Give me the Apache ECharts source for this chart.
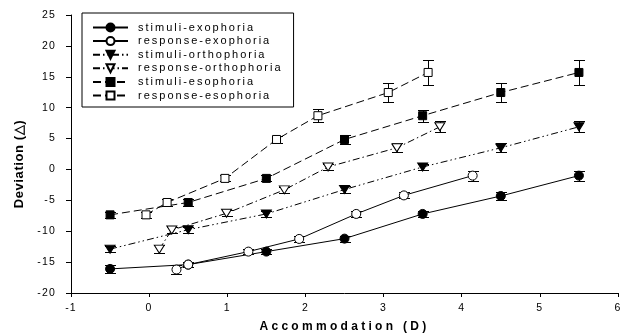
<!DOCTYPE html>
<html><head><meta charset="utf-8">
<script src="https://cdn.jsdelivr.net/npm/echarts@6/dist/echarts.min.js"></script>
<style>html,body{margin:0;padding:0;background:#fff}#c{width:631px;height:334px}</style>
</head><body><div id="c"></div>
<script>
// ---- data ----
const seriesNames = ['stimuli-exophoria','response-exophoria','stimuli-orthophoria','response-orthophoria','stimuli-esophoria','response-esophoria'];

const stimExoX = [-0.5, 0.5, 1.5, 2.5, 3.5, 4.5, 5.5];
const stimExoY = [-16.1, -15.4, -13.3, -11.2, -7.2, -4.3, -1.0];
const stimExoE = [0.7, 0.4, 0.4, 0.5, 0.5, 0.6, 0.8];

const respExoX = [0.35, 0.5, 1.27, 1.92, 2.65, 3.26, 4.14];
const respExoY = [-16.2, -15.4, -13.3, -11.25, -7.2, -4.2, -1.0];
const respExoE = [0.7, 0.4, 0.4, 0.5, 0.5, 0.5, 0.8];

const stimOrthoX = [-0.5, 0.5, 1.5, 2.5, 3.5, 4.5, 5.5];
const stimOrthoY = [-12.9, -9.75, -7.2, -3.25, 0.4, 3.5, 6.9];
const stimOrthoE = [0.5, 0.5, 0.5, 0.5, 0.5, 0.7, 0.9];

const respOrthoX = [0.13, 0.29, 0.99, 1.73, 2.29, 3.17, 3.72];
const respOrthoY = [-12.9, -9.8, -7.1, -3.3, 0.4, 3.5, 6.9];
const respOrthoE = [0.7, 0.5, 0.5, 0.5, 0.5, 0.7, 0.9];

const stimEsoX = [-0.5, 0.5, 1.5, 2.5, 3.5, 4.5, 5.5];
const stimEsoY = [-7.35, -5.35, -1.45, 4.85, 8.7, 12.45, 15.7];
const stimEsoE = [0.5, 0.6, 0.5, 0.7, 1.0, 1.5, 2.0];

const respEsoX = [-0.04, 0.23, 0.97, 1.63, 2.16, 3.06, 3.57];
const respEsoY = [-7.35, -5.35, -1.45, 4.85, 8.7, 12.45, 15.7];
const respEsoE = [0.5, 0.6, 0.5, 0.6, 1.1, 1.5, 2.0];

const xMin = -1, xMax = 6, xStep = 1;
const yMin = -20, yMax = 25, yStep = 5;
const xTitle = 'Accommodation (D)';
const yTitle = 'Deviation (\u25B3)';

// ---- letter spacing for canvas text (keyed by font) ----
(function(){
  const P = CanvasRenderingContext2D.prototype;
  if (!('letterSpacing' in P)) return;
  function sp(font){
    const m = /([\d.]+)px/.exec(font); const s = m ? parseFloat(m[1]) : 0;
    const b = /bold|\b[6-9]00\b/.test(font);
    if (b && Math.abs(s-12) < 0.01) return 3.3;
    if (b && Math.abs(s-13) < 0.01) return 0.6;
    if (!b && Math.abs(s-11) < 0.01) return 2;
    if (!b && Math.abs(s-10.5) < 0.01) return 1.2;
    return 0;
  }
  const ft = P.fillText, mt = P.measureText;
  P.fillText = function(){ this.letterSpacing = sp(this.font) + 'px'; return ft.apply(this, arguments); };
  P.measureText = function(){ this.letterSpacing = sp(this.font) + 'px'; return mt.apply(this, arguments); };
})();

const FONT = 'Liberation Sans';
const downTri = 'path://M0,0L10,0L5,8.66Z';

function pairs(xs, ys){ return xs.map((x,i)=>[x, ys[i]]); }

function lineSeries(name, xs, ys, symbol, size, filled, dash){
  return {
    name, type:'line', data: pairs(xs, ys), symbol, symbolSize: size, showSymbol: true,
    animation:false, z:3, emphasis:{disabled:true}, silent:true,
    lineStyle:{color:'#000', width:1, type: dash},
    itemStyle:{color: filled ? '#000' : '#fff', borderColor:'#000', borderWidth:1}
  };
}

function errSeries(xs, ys, es){
  return {
    type:'custom', silent:true, z:1, animation:false,
    data: xs.map((x,i)=>[x, ys[i], es[i]]),
    encode:{x:0, y:1},
    renderItem(params, api){
      const x = api.value(0), y = api.value(1), e = api.value(2);
      const t = api.coord([x, y + e]), b = api.coord([x, y - e]);
      const cx = Math.round(t[0]) + 0.5, ty = Math.round(t[1]) + 0.5, by = Math.round(b[1]) + 0.5;
      const hw = 5.5;
      const st = {stroke:'#000', lineWidth:1};
      return {type:'group', children:[
        {type:'line', shape:{x1:cx, y1:ty, x2:cx, y2:by}, style:st},
        {type:'line', shape:{x1:cx-hw, y1:ty, x2:cx+hw, y2:ty}, style:st},
        {type:'line', shape:{x1:cx-hw, y1:by, x2:cx+hw, y2:by}, style:st}
      ]};
    }
  };
}

const solid = 'solid';
const dashDotDot = [7,3,1.5,3,1.5,3];
const dashDot = [7,3,1.5,3];
const dashed = [8,4];

const chart = echarts.init(document.getElementById('c'), null, {renderer:'canvas', width:631, height:334});
chart.setOption({
  animation:false,
  backgroundColor:'#fff',
  grid:{left:71, right:13, top:15, bottom:41, outerBoundsMode:'none', containLabel:false},
  legend:{
    orient:'vertical', left:82, top:13, padding:[8,11,5,10],
    itemWidth:35, itemHeight:10, itemGap:0.6,
    borderColor:'#000', borderWidth:1, selectedMode:false,
    data: seriesNames,
    textStyle:{fontFamily:FONT, fontSize:11, color:'#000', padding:[0,0,0,5]}
  },
  xAxis:{
    type:'value', min:xMin, max:xMax, interval:xStep,
    name:xTitle, nameLocation:'middle', nameGap:26,
    nameTextStyle:{fontFamily:FONT, fontSize:12, fontWeight:'bold', color:'#000'},
    axisLine:{onZero:false, lineStyle:{color:'#000', width:1}},
    axisTick:{length:4, lineStyle:{color:'#000'}},
    axisLabel:{fontFamily:FONT, fontSize:10.5, color:'#000', margin:9},
    splitLine:{show:false}
  },
  yAxis:{
    type:'value', min:yMin, max:yMax, interval:yStep,
    name:yTitle, nameLocation:'middle', nameGap:44, nameRotate:90,
    nameTextStyle:{fontFamily:FONT, fontSize:13, fontWeight:'bold', color:'#000', padding:[0,20,0,0]},
    axisLine:{show:true, onZero:false, lineStyle:{color:'#000', width:1}},
    axisTick:{show:true, length:5, lineStyle:{color:'#000'}},
    axisLabel:{fontFamily:FONT, fontSize:10.5, color:'#000', margin:15},
    splitLine:{show:false}
  },
  series:[
    errSeries(stimExoX, stimExoY, stimExoE),
    errSeries(respExoX, respExoY, respExoE),
    errSeries(stimOrthoX, stimOrthoY, stimOrthoE),
    errSeries(respOrthoX, respOrthoY, respOrthoE),
    errSeries(stimEsoX, stimEsoY, stimEsoE),
    errSeries(respEsoX, respEsoY, respEsoE),
    lineSeries(seriesNames[0], stimExoX, stimExoY, 'circle', 9, true, solid),
    lineSeries(seriesNames[1], respExoX, respExoY, 'circle', 9, false, solid),
    lineSeries(seriesNames[2], stimOrthoX, stimOrthoY, downTri, [10,8], true, dashDotDot),
    lineSeries(seriesNames[3], respOrthoX, respOrthoY, downTri, [10,8], false, dashDot),
    lineSeries(seriesNames[4], stimEsoX, stimEsoY, 'rect', 8, true, dashed),
    lineSeries(seriesNames[5], respEsoX, respEsoY, 'rect', 8, false, dashed)
  ]
});
</script>
</body></html>
